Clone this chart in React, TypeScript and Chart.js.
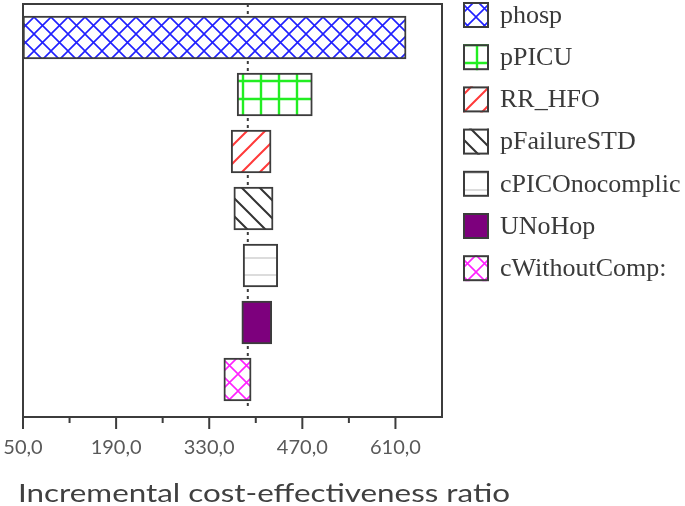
import React, { useEffect, useRef } from 'react';
import { Chart, registerables } from 'chart.js';

Chart.register(...registerables);

// ---- data ----
const categories = ['phosp', 'pPICU', 'RR_HFO', 'pFailureSTD', 'cPICOnocomplic', 'UNoHop', 'cWithoutComp:'];
const lowValues = [50, 372, 363, 367, 381, 379, 352];
const highValues = [626, 485, 423, 426, 433, 424, 393];
const baseCaseIcer = 388;
const xTickLabels = ['50,0', '', '190,0', '', '330,0', '', '470,0', '', '610,0', ''];
const axisTitle = 'Incremental cost-effectiveness ratio';

// ---- styles ----
const patternKinds = ['diamond', 'grid', 'fwd', 'back', 'hline', 'solid', 'diamond'];
const patternColors = ['#2020ff', '#22ee22', '#ff3a3a', '#333333', '#d0d0d0', '#7d007d', '#ff22ff'];
const patternSizes = [17, 18, 18, 18, 17, 17, 17];
const frameColor = '#3c3c3c';
const titleWidth = 492;

function makePattern(kind: string, color: string, size: number): CanvasPattern | string {
  if (kind === 'solid') return color;
  const c = document.createElement('canvas');
  c.width = size;
  c.height = size;
  const g = c.getContext('2d')!;
  g.fillStyle = '#ffffff';
  g.fillRect(0, 0, size, size);
  g.strokeStyle = color;
  g.lineWidth = 1.6;
  g.beginPath();
  if (kind === 'diamond') {
    g.moveTo(0, 0); g.lineTo(size, size);
    g.moveTo(size, 0); g.lineTo(0, size);
  } else if (kind === 'grid') {
    g.lineWidth = 2.4;
    g.moveTo(size / 2, 0); g.lineTo(size / 2, size);
    g.moveTo(0, size / 2); g.lineTo(size, size / 2);
  } else if (kind === 'fwd') {
    g.lineWidth = 2;
    g.moveTo(-1, size + 1); g.lineTo(size + 1, -1);
    g.moveTo(-1, 1); g.lineTo(1, -1);
    g.moveTo(size - 1, size + 1); g.lineTo(size + 1, size - 1);
  } else if (kind === 'back') {
    g.lineWidth = 2;
    g.moveTo(-1, -1); g.lineTo(size + 1, size + 1);
    g.moveTo(size - 1, -1); g.lineTo(size + 1, 1);
    g.moveTo(-1, size - 1); g.lineTo(1, size + 1);
  } else if (kind === 'hline') {
    g.lineWidth = 1.5;
    g.moveTo(0, 3); g.lineTo(size, 3);
  }
  g.stroke();
  return g.createPattern(c, 'repeat')!;
}

const decorPlugin = {
  id: 'decor',
  afterDatasetsDraw(chart: any) {
    const { ctx, chartArea: a, scales } = chart;
    const xs = scales.x;
    ctx.save();
    ctx.strokeStyle = frameColor;
    ctx.lineWidth = 2;
    ctx.beginPath();
    ctx.moveTo(a.left, a.bottom);
    ctx.lineTo(a.left, a.top);
    ctx.lineTo(a.right, a.top);
    ctx.lineTo(a.right, a.bottom);
    ctx.stroke();
    xs.ticks.forEach((t: any, i: number) => {
      if (t.value >= xs.max) return;
      const px = xs.getPixelForValue(t.value);
      const len = i % 2 === 0 ? 12 : 6;
      ctx.beginPath();
      ctx.moveTo(px, a.bottom);
      ctx.lineTo(px, a.bottom + len);
      ctx.stroke();
    });
    const bx = xs.getPixelForValue(baseCaseIcer);
    ctx.fillStyle = frameColor;
    ctx.fillRect(bx - 1, a.top, 2, 3);
    chart.data.datasets.forEach((_ds: any, i: number) => {
      const el = chart.getDatasetMeta(i).data[i];
      if (!el) return;
      const half = el.height / 2;
      ctx.fillRect(bx - 1, el.y - half - 5, 2, 3);
      ctx.fillRect(bx - 1, el.y + half + 2, 2, 3);
    });
    ctx.restore();
  },
  afterDraw(chart: any) {
    const { ctx, chartArea: a } = chart;
    // legend
    const lx = a.right + 21;
    const box = 26;
    const step = 42.2;
    const y0 = a.top - 2;
    ctx.save();
    ctx.font = '26px "Liberation Serif"';
    ctx.textBaseline = 'middle';
    ctx.textAlign = 'left';
    chart.data.datasets.forEach((ds: any, i: number) => {
      const y = y0 + i * step;
      ctx.fillStyle = ds.backgroundColor;
      ctx.fillRect(lx, y, box, box);
      ctx.strokeStyle = frameColor;
      ctx.lineWidth = 2;
      ctx.strokeRect(lx + 1, y + 1, box - 2, box - 2);
      ctx.fillStyle = '#3a3a3a';
      ctx.fillText(ds.label, lx + box + 11, y + box / 2 + 1);
    });
    ctx.restore();
    // axis title (slightly wide face, as in the reference)
    ctx.save();
    ctx.font = '25px Lato';
    ctx.textBaseline = 'alphabetic';
    ctx.textAlign = 'left';
    ctx.fillStyle = '#404040';
    const w = ctx.measureText(axisTitle).width;
    ctx.translate(a.left - 5, 502);
    ctx.scale(titleWidth / w, 1);
    ctx.fillText(axisTitle, 0, 0);
    ctx.restore();
  },
};

export default function App() {
  const ref = useRef<HTMLCanvasElement | null>(null);

  useEffect(() => {
    if (!ref.current) return;
    const datasets = categories.map((label, i) => ({
      label,
      data: categories.map((_c, j) => ({ y: j, x: j === i ? [lowValues[i], highValues[i]] : null })),
      backgroundColor: makePattern(patternKinds[i], patternColors[i], patternSizes[i]),
      borderColor: frameColor,
      borderWidth: 2,
      borderSkipped: false,
      barThickness: 43,
      skipNull: true,
    }));

    const chart = new Chart(ref.current, {
      type: 'bar',
      data: { datasets: datasets as any },
      options: {
        indexAxis: 'y',
        animation: false,
        responsive: false,
        maintainAspectRatio: false,
        layout: { padding: { left: 23, right: 243, top: 4, bottom: 0 } },
        plugins: { legend: { display: false }, tooltip: { enabled: false } },
        scales: {
          y: {
            type: 'linear',
            min: -0.588,
            max: 6.658,
            reverse: true,
            offset: false,
            display: false,
          },
          x: {
            type: 'linear',
            min: 50,
            max: 680,
            grid: {
              display: true,
              drawOnChartArea: false,
              drawTicks: true,
              tickLength: 19,
              tickColor: 'rgba(0,0,0,0)',
            },
            border: { display: true, color: frameColor, width: 2 },
            ticks: {
              stepSize: 70,
              autoSkip: false,
              maxRotation: 0,
              padding: 0,
              color: '#595959',
              font: { family: 'Lato', size: 20 },
              callback: (_v: any, i: number) => xTickLabels[i] ?? '',
            },
            title: { display: false },
            afterFit: (scale: any) => {
              scale.height = 89;
            },
          },
        },
      } as any,
      plugins: [decorPlugin],
    });
    return () => chart.destroy();
  }, []);

  return (
    <div style={{ position: 'fixed', left: 0, top: 0, width: 685, height: 506, background: '#ffffff' }}>
      <canvas ref={ref} width={685} height={506} />
    </div>
  );
}
